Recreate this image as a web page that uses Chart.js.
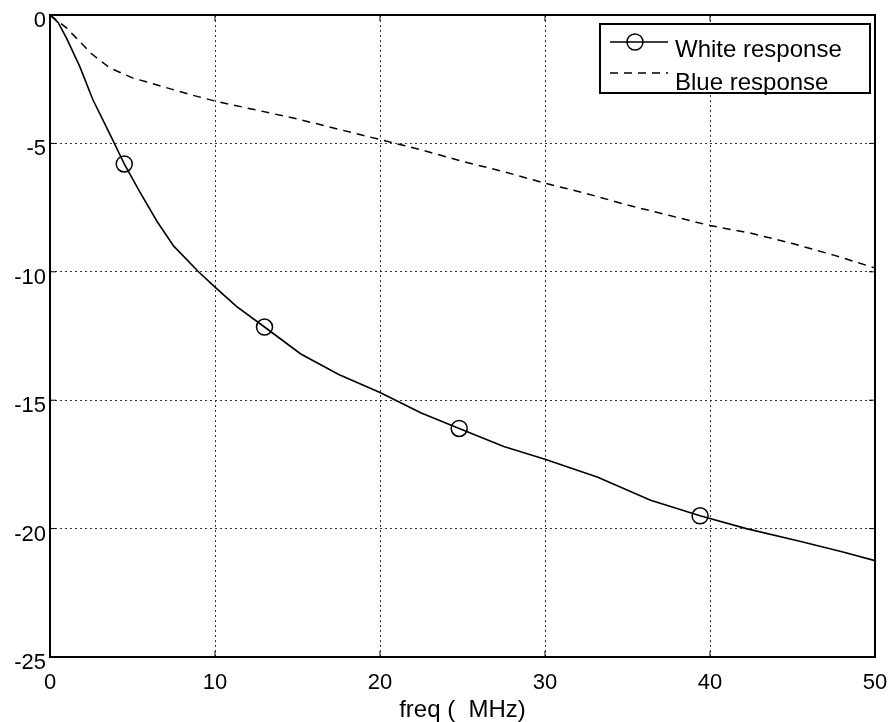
<!DOCTYPE html>
<html>
<head>
<meta charset="utf-8">
<script src="https://cdn.jsdelivr.net/npm/chart.js@4/dist/chart.umd.min.js"></script>
<style>
  body { margin: 0; background: #fff; }
  canvas { display: block; }
</style>
</head>
<body>
<canvas id="chart" width="892" height="722"></canvas>
<script>
const FONT = "'Liberation Sans', Arial, sans-serif";

// white response (solid line)
const whiteFreq = [0, 0.5, 1, 1.8, 2.6, 3.6, 4.5, 5.45, 6.5, 7.5, 9, 10, 11.3, 13, 15.2, 17.5, 20, 22.5, 24.8, 27.5, 30, 33.2, 36.4, 39.4, 42.2, 45.5, 48, 50];
const whiteDb = [0, -0.3, -0.9, -2.0, -3.3, -4.6, -5.8, -6.9, -8.05, -9.0, -10.0, -10.6, -11.35, -12.15, -13.2, -14.0, -14.7, -15.5, -16.1, -16.8, -17.3, -18.0, -18.9, -19.5, -20.0, -20.5, -20.9, -21.25];
const markerFreq = [4.5, 13, 24.8, 39.4];

// blue response (dashed line)
const blueFreq = [0, 1, 1.6, 2.5, 3.6, 5, 6.1, 8.5, 10, 12.5, 15, 17.5, 20, 22.5, 25, 27.5, 30, 32.5, 35, 37.5, 40, 42.5, 45, 47.5, 50];
const blueDb = [0, -0.5, -0.9, -1.5, -2.05, -2.45, -2.65, -3.1, -3.35, -3.7, -4.05, -4.45, -4.85, -5.25, -5.7, -6.1, -6.55, -6.95, -7.4, -7.8, -8.2, -8.5, -8.9, -9.35, -9.85];

const xTicks = [0, 10, 20, 30, 40, 50];
const yTicks = [0, -5, -10, -15, -20, -25];

const seriesNames = ["White response", "Blue response"];
const xTitle = "freq (  MHz)";

function pts(xs, ys){
  return xs.map((x, i) => ({x: x, y: ys[i]}));
}

// matlab style box, inward ticks and boxed legend
const framePlugin = {
  id: "frame",
  afterDraw(chart){
    const c = chart.ctx;
    const a = chart.chartArea;
    const xs = chart.scales.x, ys = chart.scales.y;
    c.save();
    c.strokeStyle = "#000";
    c.lineWidth = 1;
    c.setLineDash([]);
    xTicks.forEach(v => {
      const p = xs.getPixelForValue(v);
      c.beginPath();
      c.moveTo(p, a.bottom); c.lineTo(p, a.bottom - 6);
      c.moveTo(p, a.top); c.lineTo(p, a.top + 6);
      c.stroke();
    });
    yTicks.forEach(v => {
      const p = ys.getPixelForValue(v);
      c.beginPath();
      c.moveTo(a.left, p); c.lineTo(a.left + 6, p);
      c.moveTo(a.right, p); c.lineTo(a.right - 6, p);
      c.stroke();
    });
    c.lineWidth = 2;
    c.strokeRect(a.left, a.top, a.right - a.left, a.bottom - a.top);

    // legend
    const bx = a.right - 275, by = a.top + 9, bw = 270, bh = 69;
    c.fillStyle = "#fff";
    c.fillRect(bx, by, bw, bh);
    c.strokeRect(bx, by, bw, bh);
    c.lineWidth = 1.5;
    c.beginPath();
    c.moveTo(bx + 10, by + 18); c.lineTo(bx + 68, by + 18);
    c.stroke();
    c.beginPath();
    c.arc(bx + 35, by + 18, 8, 0, Math.PI * 2);
    c.stroke();
    c.setLineDash([8, 6]);
    c.beginPath();
    c.moveTo(bx + 10, by + 49); c.lineTo(bx + 68, by + 49);
    c.stroke();
    c.setLineDash([]);
    c.fillStyle = "#000";
    c.font = "24px " + FONT;
    c.textBaseline = "middle";
    c.textAlign = "left";
    c.fillText(seriesNames[0], bx + 75, by + 26);
    c.fillText(seriesNames[1], bx + 75, by + 59);
    c.restore();
  }
};

const ctx = document.getElementById("chart").getContext("2d");

const chart = new Chart(ctx, {
  type: "line",
  data: {
    datasets: [{
      label: seriesNames[0],
      data: pts(whiteFreq, whiteDb),
      borderColor: "#000",
      borderWidth: 1.6,
      pointRadius: c => markerFreq.includes(whiteFreq[c.dataIndex]) ? 8 : 0,
      pointBorderColor: "#000",
      pointBackgroundColor: "rgba(0,0,0,0)",
      pointBorderWidth: 1.5,
      tension: 0
    }, {
      label: seriesNames[1],
      data: pts(blueFreq, blueDb),
      borderColor: "#000",
      borderWidth: 1.5,
      borderDash: [8, 6],
      pointRadius: 0,
      tension: 0
    }]
  },
  options: {
    responsive: false,
    animation: false,
    devicePixelRatio: 1,
    layout: { padding: { top: 15, right: 17, left: 0, bottom: 0 } },
    plugins: {
      legend: { display: false },
      tooltip: { enabled: false }
    },
    scales: {
      x: {
        type: "linear",
        min: 0,
        max: 50,
        afterFit: s => { s.height = 65; s.paddingLeft = 0; s.paddingRight = 0; },
        afterBuildTicks: s => { s.ticks = xTicks.map(v => ({value: v})); },
        ticks: {
          color: "#000",
          font: { family: FONT, size: 22 },
          padding: 13,
          maxRotation: 0
        },
        grid: { color: "#333", lineWidth: 1, drawTicks: false },
        border: { display: false, dash: [2, 3] },
        title: {
          display: true,
          text: xTitle,
          color: "#000",
          font: { family: FONT, size: 24, lineHeight: 1 },
          padding: { top: 0, bottom: 0 }
        }
      },
      y: {
        min: -25,
        max: 0,
        afterFit: s => { s.width = 50; s.paddingTop = 0; s.paddingBottom = 0; },
        afterBuildTicks: s => { s.ticks = yTicks.map(v => ({value: v})); },
        ticks: {
          color: "#000",
          font: { family: FONT, size: 22 },
          padding: 4,
          labelOffset: 6
        },
        grid: { color: "#333", lineWidth: 1, drawTicks: false },
        border: { display: false, dash: [2, 3] }
      }
    }
  },
  plugins: [framePlugin]
});
</script>
</body>
</html>
